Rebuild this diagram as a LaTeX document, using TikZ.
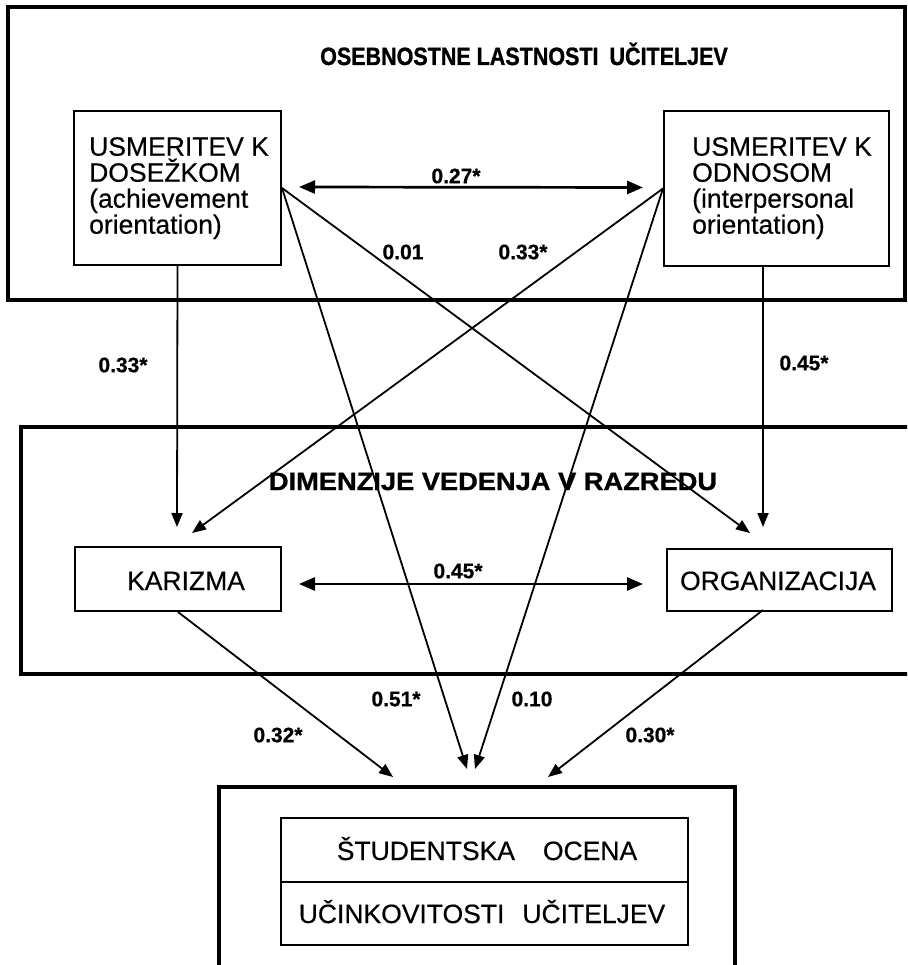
\documentclass[tikz,border=0pt]{standalone}
\usepackage{fontspec}
\setmainfont[FakeBold=0.3]{Liberation Sans}
\newfontfamily\headA[FakeStretch=0.86,FakeBold=1]{Liberation Sans}
\newfontfamily\headB[FakeStretch=1.09,FakeBold=1]{Liberation Sans}
\newfontfamily\coeffont[FakeBold=0.6]{Liberation Sans}
\newfontfamily\plainfont[FakeBold=0.4]{Liberation Sans}
\usetikzlibrary{arrows.meta,calc}

\begin{document}
\begin{tikzpicture}[x=1pt,y=-1pt,
  outerframe/.style={line width=4pt},
  inbox/.style={draw,line width=2pt,inner sep=0pt},
  effect/.style={line width=1.8pt,-{Triangle[length=14pt,width=11pt]}},
  corr/.style={line width=2.7pt,{Triangle[length=16pt,width=13pt]}-{Triangle[length=16pt,width=13pt]}},
  coef/.style={font=\coeffont\fontsize{21}{23}\selectfont\bfseries,inner sep=0pt},
  boxtext/.style={font=\plainfont\fontsize{26.5}{26}\selectfont,inner sep=0pt,align=left},
  headtext/.style={inner sep=0pt}
]
\clip (0,0) rectangle (907,965);
\fill[white] (0,0) rectangle (907,965);

% group frames
\draw[outerframe] (8,7) rectangle (905,300);
\draw[outerframe] (915,427) -- (21,427) -- (21,674) -- (915,674);
\draw[outerframe] (219,975) -- (219,787) -- (735,787) -- (735,975);

% group headings
\node[headtext, anchor=base, font=\headA\bfseries\fontsize{25}{27}\selectfont] (h1) at (524,65)
  {OSEBNOSTNE LASTNOSTI\hspace{11pt}UČITELJEV};
\node[headtext, anchor=base, font=\headB\bfseries\fontsize{25}{27}\selectfont] (h2) at (493,490)
  {DIMENZIJE VEDENJA V RAZREDU};

% teacher traits
\node[inbox, anchor=north west, minimum width=207pt, minimum height=154pt] (ach) at (73,110) {};
\node[boxtext, anchor=north west] (achT) at (89,137)
  {USMERITEV K\\DOSEŽKOM\\(achievement\\orientation)};
\node[inbox, anchor=north west, minimum width=225pt, minimum height=155pt] (int) at (663,110) {};
\node[boxtext, anchor=north west] (intT) at (692,137)
  {USMERITEV K\\ODNOSOM\\(interpersonal\\orientation)};

% classroom dimensions
\node[inbox, anchor=north west, minimum width=206pt, minimum height=64pt] (kar) at (74,546) {};
\node[boxtext, anchor=base] (karT) at (186,590) {KARIZMA};
\node[inbox, anchor=north west, minimum width=225pt, minimum height=62pt] (org) at (666,548) {};
\node[boxtext, anchor=base] (orgT) at (778,590) {ORGANIZACIJA};

% outcome
\node[inbox, anchor=north west, minimum width=407pt, minimum height=127pt] (stu) at (280,817) {};
\draw[line width=2pt] (stu.west) -- (stu.east);
\node[boxtext, anchor=base] (stuA) at (487,860) {ŠTUDENTSKA\hspace{28pt}OCENA};
\node[boxtext, anchor=base] (stuB) at (482,923) {UČINKOVITOSTI\hspace{18pt}UČITELJEV};

% arrow end points
\coordinate (karTopA) at (177,527);
\coordinate (karTopB) at (192,533);
\coordinate (intFoot) at (763,265);
\coordinate (orgTopB) at (763,527);
\coordinate (orgTopA) at (750,533);
\coordinate (orgFoot) at (763,610);
\coordinate (stuInA) at (467,769);
\coordinate (stuInB) at (475,769);
\coordinate (stuInK) at (393,777);
\coordinate (stuInO) at (548,777);

% paths
\draw[effect] (ach.south) -- (karTopA);
\draw[effect] (intFoot) -- (orgTopB);
\draw[effect] (ach.east) -- (orgTopA);
\draw[effect] (int.west) -- (karTopB);
\draw[effect] (ach.east) -- (stuInA);
\draw[effect] (int.west) -- (stuInB);
\draw[effect] (kar.south) -- (stuInK);
\draw[effect] (orgFoot) -- (stuInO);

% correlations
\draw[corr] ($(ach.east)+(17,-1)$) -- ($(int.west)+(-20,-1)$);
\draw[corr] ($(kar.east)+(17,5)$) -- ($(org.west)+(-23,4)$);

% coefficients
\node[coef] (c1) at (456,176) {0.27*};
\node[coef] (c2) at (403,252) {0.01};
\node[coef] (c3) at (523,252) {0.33*};
\node[coef] (c4) at (123,365) {0.33*};
\node[coef] (c5) at (804,363) {0.45*};
\node[coef] (c6) at (458,571) {0.45*};
\node[coef] (c7) at (396,699) {0.51*};
\node[coef] (c8) at (532,699) {0.10};
\node[coef] (c9) at (278,735) {0.32*};
\node[coef] (c10) at (650,735) {0.30*};
\end{tikzpicture}
\end{document}
